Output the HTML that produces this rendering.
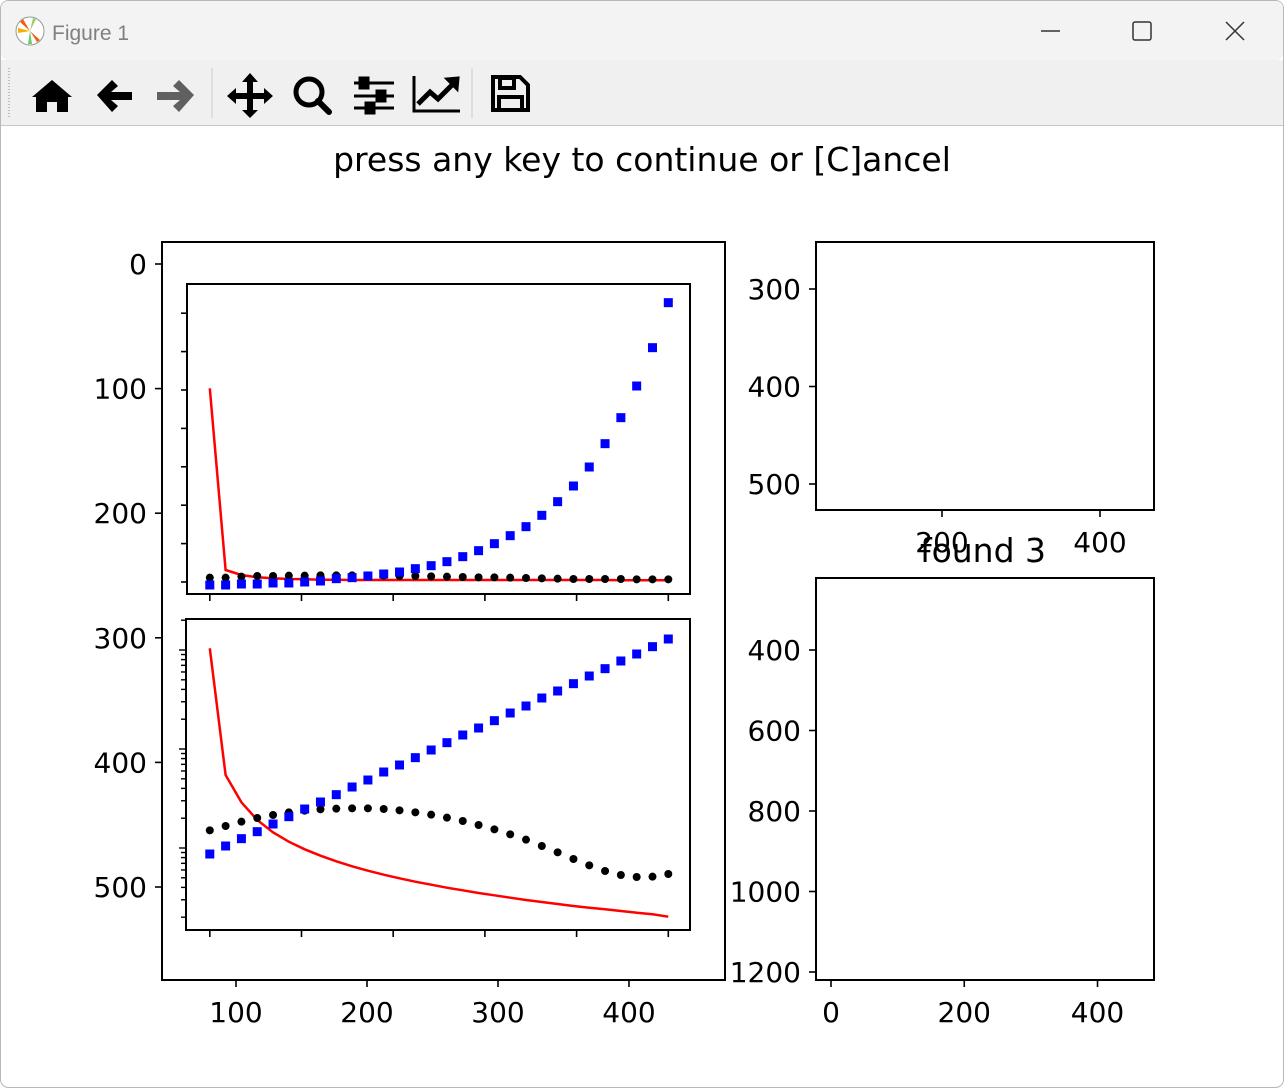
<!DOCTYPE html>
<html><head><meta charset="utf-8"><style>
html,body{margin:0;padding:0;width:1284px;height:1088px;overflow:hidden;background:#fff}
svg{display:block}
text{font-family:"DejaVu Sans","Liberation Sans",sans-serif}
</style></head><body>
<svg id="fig" width="1284" height="1088" xmlns="http://www.w3.org/2000/svg">
<rect x="0.5" y="0.5" width="1283" height="1087" rx="8" fill="#fff" stroke="#b8b8b8"/>
<rect x="1" y="1" width="1282" height="59" rx="7" fill="#f3f3f3"/>
<g><circle cx="30" cy="31" r="14" fill="#fff" stroke="#999"/><path d="M30 31 L20 22 L23 19Z M30 31 L40 40 L37 42Z" fill="#f06010"/><path d="M30 31 L18 33 L18 28Z" fill="#f5b000"/><path d="M30 31 L28 44 L32 44Z" fill="#6c6"/><path d="M30 31 L33 18 L36 19Z" fill="#9c6"/></g>
<text x="52" y="40" font-size="21" fill="#808080" style="font-family:'Liberation Sans',sans-serif">Figure 1</text>
<g stroke="#333" stroke-width="1.5" fill="none">
<line x1="1041" y1="31" x2="1060" y2="31"/>
<rect x="1133" y="22" width="18" height="18" rx="2"/>
<path d="M1226 22 L1244 40 M1244 22 L1226 40"/>
</g>
<rect x="1" y="60" width="1282" height="65" fill="#f0f0f0"/>
<line x1="1" y1="125.5" x2="1283" y2="125.5" stroke="#c8c8c8"/>
<line x1="9" y1="68" x2="9" y2="118" stroke="#bbb" stroke-dasharray="1,2" stroke-width="2"/>
<g><path d="M32 97 L52 80 L72 97 L68 97 L68 112 L57 112 L57 102 L47 102 L47 112 L36 112 L36 97Z" fill="#000"/></g>
<g><path d="M97 95 L112 80 L118 86 L111 92 L132 92 L132 100 L111 100 L118 106 L112 112Z" fill="#000"/></g>
<g><path d="M194 95 L179 80 L173 86 L180 92 L157 92 L157 100 L180 100 L173 106 L179 112Z" fill="#606060"/></g>
<line x1="212" y1="68" x2="212" y2="118" stroke="#ccc"/>
<g fill="#000"><path d="M250 73 L258 82 L253 82 L253 93 L264 93 L264 88 L273 96 L264 104 L264 99 L253 99 L253 110 L258 110 L250 118 L242 110 L247 110 L247 99 L236 99 L236 104 L227 96 L236 88 L236 93 L247 93 L247 82 L242 82Z"/></g>
<g><circle cx="309" cy="92" r="13" fill="none" stroke="#000" stroke-width="5"/><line x1="318" y1="101" x2="329" y2="112" stroke="#000" stroke-width="6" stroke-linecap="round"/></g>
<g stroke="#000" stroke-width="3"><line x1="354" y1="83" x2="394" y2="83"/><line x1="354" y1="96" x2="394" y2="96"/><line x1="354" y1="108" x2="394" y2="108"/><rect x="360" y="78" width="8" height="10" fill="#000"/><rect x="377" y="91" width="8" height="10" fill="#000"/><rect x="366" y="103" width="8" height="10" fill="#000"/></g>
<g stroke="#000" fill="none" stroke-width="3"><path d="M414 76 L414 111 L460 111"/><path d="M418 104 L430 92 L438 99 L455 82" stroke-width="5"/><path d="M447 79 L458 78 L457 89Z" fill="#000"/></g>
<line x1="472" y1="68" x2="472" y2="118" stroke="#ccc"/>
<g fill="none" stroke="#000" stroke-width="4"><path d="M493 77 L520 77 L528 85 L528 110 L493 110Z"/><rect x="500" y="78" width="14" height="10"/><rect x="499" y="97" width="23" height="13"/></g>

<text x="642" y="171" font-size="33" text-anchor="middle">press any key to continue or [C]ancel</text>
<g id="plots"></g>
</svg>
<script>
// shared x data for inner plots
const xVals = [80,92.07,104.14,116.21,128.28,140.34,152.41,164.48,176.55,188.62,200.69,212.76,224.83,236.9,248.97,261.03,273.1,285.17,297.24,309.31,321.38,333.45,345.52,357.59,369.66,381.72,393.79,405.86,417.93,430];
// top inset series
const topBlue = [0.85,0.85,0.88,0.88,0.91,0.91,0.94,0.97,1.04,1.07,1.12,1.18,1.24,1.34,1.43,1.55,1.70,1.88,2.09,2.33,2.60,2.94,3.35,3.82,4.39,5.09,5.87,6.82,7.97,9.32];
const topBlack = [1.07,1.07,1.10,1.12,1.12,1.13,1.13,1.14,1.14,1.14,1.14,1.13,1.12,1.12,1.11,1.10,1.09,1.08,1.08,1.07,1.06,1.05,1.04,1.03,1.03,1.03,1.03,1.02,1.02,1.02];
const topRed = [6.75,1.30,1.15,1.08,1.05,1.03,1.02,1.01,1.01,1.00,1.00,1.00,1.00,1.00,1.00,1.00,1.00,1.00,1.00,1.00,1.00,1.00,1.00,1.00,1.00,1.00,0.99,0.99,0.99,0.99];
// bottom inset series
const botBlue = [2.38,2.62,2.84,3.05,3.28,3.50,3.73,3.94,4.16,4.39,4.60,4.84,5.05,5.27,5.50,5.72,5.95,6.16,6.38,6.61,6.82,7.06,7.27,7.49,7.72,7.94,8.17,8.38,8.60,8.83];
const botBlack = [3.09,3.22,3.35,3.46,3.55,3.63,3.68,3.72,3.74,3.75,3.75,3.73,3.69,3.63,3.56,3.47,3.37,3.25,3.12,2.97,2.81,2.62,2.43,2.23,2.04,1.87,1.75,1.69,1.70,1.78];
const botRed = [8.55,4.75,3.93,3.40,3.03,2.75,2.52,2.33,2.16,2.01,1.88,1.76,1.65,1.55,1.46,1.37,1.29,1.21,1.14,1.07,1.00,0.94,0.88,0.82,0.77,0.72,0.67,0.62,0.57,0.50];
// tick labels
const outerXTicks = [100,200,300,400];
const outerYTicks = [0,100,200,300,400,500];
const innerXTicks = [80,150,220,290,360,430];
const topInnerYTicks = [7,6,5,4,3,2,1,0];
const rtXTicks = [200,400];
const rtYTicks = [300,400,500];
const rbXTicks = [0,200,400];
const rbYTicks = [400,600,800,1000,1200];

const NS = 'http://www.w3.org/2000/svg';
const root = document.getElementById('plots');
function el(tag, attrs, parent){const e=document.createElementNS(NS,tag);for(const k in attrs)e.setAttribute(k,attrs[k]);(parent||root).appendChild(e);return e;}

// scales
const ox = x => 236 + (x-100)*1.31;
const oy = y => 264 + y*1.246;
const topY = v => 280 + (1000 - v*100)/3;
const botY = v => 600 + (1000 - v*100)/3;
const tickTopY = v => 582 - v*38.4;
const rtX = x => 942 + (x-200)*0.79;
const rtY = y => 289 + (y-300)*0.975;
const rbX = x => 831 + x*0.6663;
const rbY = y => 650 + (y-400)*0.4025;

function box(x1,y1,x2,y2,name){
  const r = el('rect',{x:x1,y:y1,width:x2-x1,height:y2-y1,fill:'none',stroke:'#000','stroke-width':2});
  
  
}
function xtick(px,y,label,name){
  el('line',{x1:px,y1:y,x2:px,y2:y+7,stroke:'#000','stroke-width':1.6});
  if(label!==null){
    const t = el('text',{x:px,y:y+42,'font-size':28,'text-anchor':'middle'});
    t.textContent = label;
    
    
  }
}
function ytick(py,x,label,name,len){
  el('line',{x1:x-(len||7),y1:py,x2:x,y2:py,stroke:'#000','stroke-width':1.6});
  if(label!==null){
    const t = el('text',{x:x-15,y:py+10,'font-size':28,'text-anchor':'end'});
    t.textContent = label;
    
    
  }
}

// outer left axes
box(162,242,725,980,'main-axes-frame');
outerXTicks.forEach(v=>xtick(ox(v),980,String(v),'x-tick-label'));
outerYTicks.forEach(v=>ytick(oy(v),162,String(v),'y-tick-label'));

// top inset
const TL=187,TR=690,TT=284,TB=594;
el('rect',{x:TL,y:TT,width:TR-TL,height:TB-TT,fill:'#fff'});
innerXTicks.forEach(v=>xtick(ox(v),TB,null));
topInnerYTicks.forEach(v=>{const py=tickTopY(v); if(py>TT && py<TB) ytick(py,TL,null,null,6);});
// bottom inset
const BL=186,BR=690,BT=619,BB=930;
el('rect',{x:BL,y:BT,width:BR-BL,height:BB-BT,fill:'#fff'});
innerXTicks.forEach(v=>xtick(ox(v),BB,null));
// log ticks
[551,650,749,848].forEach(p0=>{
  for(let k=1;k<=9;k++){
    const py = p0 + 99*(1-Math.log10(k));
    if(py>=BT && py<=BB) el('line',{x1:BL-(k===1?7:5),y1:py,x2:BL,y2:py,stroke:'#000','stroke-width':1.4});
  }
});

function series(scaleY, blue, black, red, nm){
  const g = el('g',{});
  
  
  const pts = red.map((v,i)=>ox(xVals[i]).toFixed(1)+','+scaleY(v).toFixed(1)).join(' ');
  const line = el('polyline',{points:pts,fill:'none',stroke:'#f00','stroke-width':2.5},g);
  
  
  black.forEach((v,i)=>{
    const c = el('circle',{cx:ox(xVals[i]),cy:scaleY(v),r:4,fill:'#000'},g);
    
    
  });
  blue.forEach((v,i)=>{
    const r = el('rect',{x:ox(xVals[i])-4.5,y:scaleY(v)-4.5,width:9,height:9,fill:'#00f'},g);
    
    
  });
}
series(topY, topBlue, topBlack, topRed, 'top-inset');
series(botY, botBlue, botBlack, botRed, 'bottom-inset');
box(TL,TT,TR,TB,'top-inset-frame');
box(BL,BT,BR,BB,'bottom-inset-frame');

// right top axes
box(816,242,1154,510,'right-top-axes-frame');
rtXTicks.forEach(v=>xtick(rtX(v),510,String(v),'right-top-x-tick-label'));
rtYTicks.forEach(v=>ytick(rtY(v),816,String(v),'right-top-y-tick-label'));

// right bottom axes
box(816,578,1154,980,'right-bottom-axes-frame');
rbXTicks.forEach(v=>xtick(rbX(v),980,String(v),'right-bottom-x-tick-label'));
rbYTicks.forEach(v=>ytick(rbY(v),816,String(v),'right-bottom-y-tick-label'));
const ft = el('text',{x:983,y:562,'font-size':33,'text-anchor':'middle'});
ft.textContent = 'found 3';


</script>
</body></html>
